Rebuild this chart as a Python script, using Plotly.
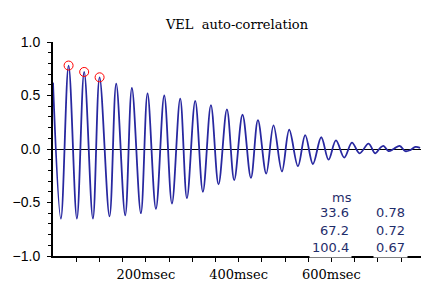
import plotly.graph_objects as go

# lag (ms) and auto-correlation value (peaks / troughs)
lag_ms = [0, 17, 33.6, 51.5, 67.2, 86, 100.4, 121.8, 136.2, 155.6, 170, 189.4,
          203.7, 221.8, 239.7, 256.3, 274.1, 288.6, 306.5, 323, 340.3, 356.7,
          374.8, 390.5, 408.4, 426.5, 441.6, 459.5, 475.2, 493.3, 509, 527.8,
          543.5, 560.1, 578, 593.8, 609.7, 627.6, 644.2, 660.6, 680, 694, 705,
          712, 723, 734, 747, 759, 770, 781, 791]
corr = [0.62, -0.65, 0.78, -0.65, 0.72, -0.65, 0.67, -0.63, 0.61, -0.62, 0.57, -0.60,
        0.52, -0.56, 0.50, -0.51, 0.47, -0.46, 0.45, -0.40, 0.41, -0.33,
        0.37, -0.29, 0.32, -0.27, 0.27, -0.23, 0.22, -0.21, 0.18, -0.16,
        0.13, -0.14, 0.11, -0.10, 0.08, -0.08, 0.06, -0.04, 0.05, -0.04, 0.01,
        0.03, -0.02, 0.0, 0.03, -0.02, -0.01, 0.02, 0.01]

peak_ms = [33.6, 67.2, 100.4]
peak_val = [0.78, 0.72, 0.67]

x_tickvals = [50, 100, 150, 200, 250, 300, 350, 400, 450, 500, 550, 600, 650, 700, 750]
x_ticktext = ["", "", "", "200msec", "", "", "", "400msec", "", "", "", "600msec", "", "", ""]
y_tickvals = [-1.0, -0.5, 0.0, 0.5, 1.0]
y_ticktext = ["\u22121.0", "\u22120.5", "0.0", "0.5", "1.0"]

title_text = "VEL  auto-correlation"
table_header = "ms"

LINE = "#2828a0"
TXT = "#1f2d6b"

fig = go.Figure()
fig.add_trace(go.Scatter(x=lag_ms, y=corr, mode="lines",
                         line=dict(color=LINE, width=1.8, shape="spline", smoothing=1.0),
                         hoverinfo="skip", showlegend=False))
fig.add_trace(go.Scatter(x=peak_ms, y=peak_val, mode="markers",
                         marker=dict(symbol="circle-open", size=9, color="red",
                                     line=dict(color="red", width=1)),
                         hoverinfo="skip", showlegend=False))

fig.update_layout(
    width=422, height=282,
    margin=dict(l=53, r=1, t=42, b=26, autoexpand=False),
    paper_bgcolor="white", plot_bgcolor="white",
    title=dict(text=title_text, x=0.5, xref="paper", xanchor="center",
               y=0.915, yref="container", yanchor="middle", automargin=False,
               font=dict(family="DejaVu Serif", size=13, color="black")),
    xaxis=dict(range=[0, 793], showgrid=False, zeroline=False, automargin=False,
               showline=True, linecolor="black", linewidth=2,
               tickmode="array", tickvals=x_tickvals, ticktext=x_ticktext,
               ticks="outside", ticklen=4, tickcolor="black", tickwidth=1,
               ticklabelstandoff=1,
               tickfont=dict(family="DejaVu Serif", size=13, color="black")),
    yaxis=dict(range=[-1, 1], showgrid=False, automargin=False,
               zeroline=True, zerolinecolor="black", zerolinewidth=1,
               showline=True, linecolor="black", linewidth=2,
               tickmode="array", tickvals=y_tickvals, ticktext=y_ticktext,
               ticks="outside", ticklen=4, tickcolor="black", tickwidth=1,
               ticklabelstandoff=4,
               minor=dict(dtick=0.1, ticks="outside", ticklen=3, tickcolor="black"),
               tickfont=dict(family="Liberation Sans", size=14, color="black")),
)

# peak table
ann_font = dict(family="DejaVu Sans", size=13, color=TXT)
fig.add_annotation(x=622.6, y=-0.449, xref="x", yref="y", text=table_header,
                   showarrow=False, xanchor="center", yanchor="middle",
                   font=ann_font, bgcolor="white", borderpad=2)
rows_y = [-0.598, -0.757, -0.925]
for t, v, yy in zip(peak_ms, peak_val, rows_y):
    fig.add_annotation(x=644, y=yy, xref="x", yref="y", text=f"{t:.1f}",
                       showarrow=False, xanchor="right", yanchor="middle",
                       font=ann_font, bgcolor="white", borderpad=2)
    fig.add_annotation(x=766, y=yy, xref="x", yref="y", text=f"{v:.2f}",
                       showarrow=False, xanchor="right", yanchor="middle",
                       font=ann_font, bgcolor="white", borderpad=2)

fig.write_html("out.html", config={"displayModeBar": False},
               post_script="document.body.style.margin='0';document.body.style.overflow='hidden';")
